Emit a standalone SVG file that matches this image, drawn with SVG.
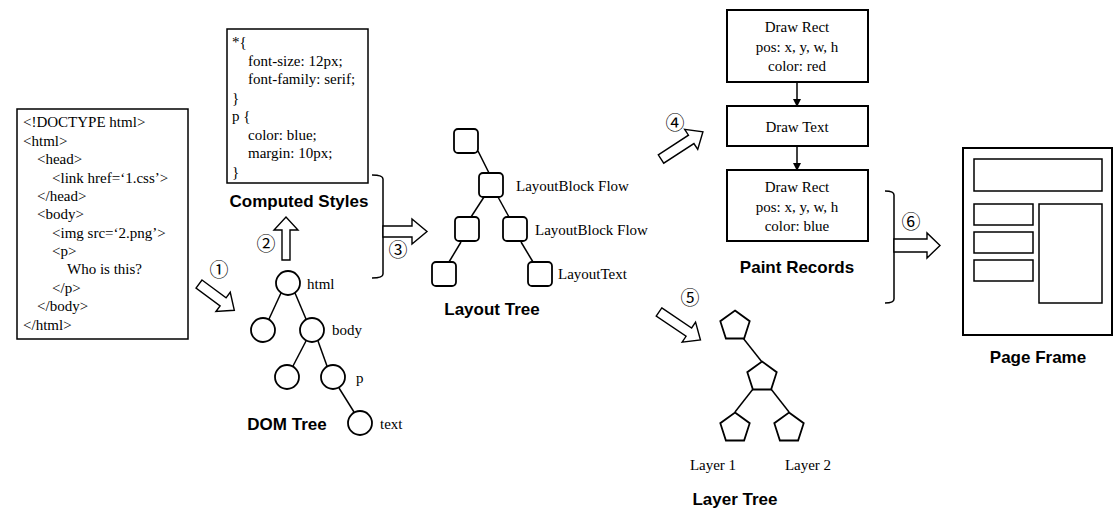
<svg xmlns="http://www.w3.org/2000/svg" width="1118" height="516" viewBox="0 0 1118 516">
<style>
.t{font-family:"Liberation Serif","Times New Roman",serif;font-size:15px;fill:#000}
.c{text-anchor:middle}
.n{font-family:"Noto Sans CJK SC","Noto Sans CJK JP",sans-serif;font-size:19px;font-weight:400;fill:#000;text-anchor:middle}
.b{font-family:"Liberation Sans",Arial,sans-serif;font-size:17px;font-weight:bold;fill:#000;text-anchor:middle}
.box{fill:#fff;stroke:#000;stroke-width:1.5}
.pbox{fill:#fff;stroke:#000;stroke-width:2}
.nd{fill:#fff;stroke:#000;stroke-width:1.8}
.ln{stroke:#000;stroke-width:1.5;fill:none}
.ha{fill:#fff;stroke:#000;stroke-width:1.4;stroke-linejoin:miter}
</style>
<defs>
<marker id="ah" markerWidth="8" markerHeight="8" refX="7" refY="4" orient="auto" markerUnits="userSpaceOnUse">
<path d="M0,0 L8,4 L0,8 Z" fill="#000"/>
</marker>
<polygon id="pent" points="0,-15.5 14.7,-4.8 9.1,12.5 -9.1,12.5 -14.7,-4.8"/>
</defs>

<g id="html-source">
<rect class="box" x="17" y="109" width="171" height="230"/>
<text class="t" x="23" y="127">&lt;!DOCTYPE html&gt;</text>
<text class="t" x="23" y="146">&lt;html&gt;</text>
<text class="t" x="37" y="164">&lt;head&gt;</text>
<text class="t" x="52" y="183">&lt;link href=‘1.css’&gt;</text>
<text class="t" x="37" y="201">&lt;/head&gt;</text>
<text class="t" x="37" y="219">&lt;body&gt;</text>
<text class="t" x="52" y="238">&lt;img src=‘2.png’&gt;</text>
<text class="t" x="52" y="256">&lt;p&gt;</text>
<text class="t" x="67" y="274">Who is this?</text>
<text class="t" x="52" y="293">&lt;/p&gt;</text>
<text class="t" x="37" y="311">&lt;/body&gt;</text>
<text class="t" x="23" y="330">&lt;/html&gt;</text>
</g>

<g id="css-source">
<rect class="box" x="227" y="29" width="141" height="154"/>
<text class="t" x="232" y="47">*{</text>
<text class="t" x="248" y="66">font-size: 12px;</text>
<text class="t" x="248" y="84">font-family: serif;</text>
<text class="t" x="232" y="103">}</text>
<text class="t" x="232" y="121">p {</text>
<text class="t" x="248" y="140">color: blue;</text>
<text class="t" x="248" y="158">margin: 10px;</text>
<text class="t" x="232" y="177">}</text>
<text class="b" x="299" y="207">Computed Styles</text>
</g>

<g id="dom-tree">
<line class="ln" x1="281" y1="293" x2="269" y2="319"/>
<line class="ln" x1="295" y1="293" x2="306" y2="319"/>
<line class="ln" x1="306" y1="341" x2="293" y2="366"/>
<line class="ln" x1="318" y1="341" x2="327" y2="366"/>
<line class="ln" x1="339" y1="388" x2="354" y2="412"/>
<circle class="nd" cx="288" cy="283" r="12"/>
<circle class="nd" cx="263" cy="330" r="12"/>
<circle class="nd" cx="312" cy="330" r="12"/>
<circle class="nd" cx="287" cy="377" r="12"/>
<circle class="nd" cx="333" cy="377" r="12"/>
<circle class="nd" cx="360" cy="423" r="12"/>
<text class="t" x="307" y="289">html</text>
<text class="t" x="332" y="335">body</text>
<text class="t" x="356" y="383">p</text>
<text class="t" x="380" y="429">text</text>
<text class="b" x="287" y="430">DOM Tree</text>
</g>

<g id="layout-tree">
<line class="ln" x1="478" y1="151" x2="489" y2="173"/>
<line class="ln" x1="484" y1="197" x2="471" y2="217"/>
<line class="ln" x1="498" y1="197" x2="509" y2="217"/>
<line class="ln" x1="461" y1="242" x2="449" y2="262"/>
<line class="ln" x1="521" y1="242" x2="533" y2="262"/>
<rect class="nd" x="454" y="129" width="24" height="24" rx="4"/>
<rect class="nd" x="479" y="173" width="24" height="24" rx="4"/>
<rect class="nd" x="455" y="217" width="24" height="24" rx="4"/>
<rect class="nd" x="503" y="217" width="24" height="24" rx="4"/>
<rect class="nd" x="432" y="262" width="24" height="24" rx="4"/>
<rect class="nd" x="528" y="262" width="24" height="24" rx="4"/>
<text class="t" x="516" y="191">LayoutBlock Flow</text>
<text class="t" x="535" y="235">LayoutBlock Flow</text>
<text class="t" x="558" y="279">LayoutText</text>
<text class="b" x="492" y="315">Layout Tree</text>
</g>

<g id="paint-records">
<rect class="pbox" x="727" y="10" width="141" height="72"/>
<text class="t c" x="797" y="32">Draw Rect</text>
<text class="t c" x="797" y="52">pos: x, y, w, h</text>
<text class="t c" x="797" y="71">color: red</text>
<rect class="pbox" x="727" y="106" width="141" height="40"/>
<text class="t c" x="797" y="132">Draw Text</text>
<rect class="pbox" x="727" y="170" width="141" height="71"/>
<text class="t c" x="797" y="192">Draw Rect</text>
<text class="t c" x="797" y="212">pos: x, y, w, h</text>
<text class="t c" x="797" y="231">color: blue</text>
<text class="b" x="797" y="273">Paint Records</text>
</g>

<g id="layer-tree">
<line class="ln" x1="743" y1="338" x2="762" y2="362"/>
<line class="ln" x1="753" y1="389" x2="735" y2="412"/>
<line class="ln" x1="771" y1="389" x2="789" y2="412"/>
<use href="#pent" x="735" y="326" class="nd"/>
<use href="#pent" x="762" y="377" class="nd"/>
<use href="#pent" x="735" y="428" class="nd"/>
<use href="#pent" x="789" y="428" class="nd"/>
<text class="t c" x="713" y="470">Layer 1</text>
<text class="t c" x="808" y="470">Layer 2</text>
<text class="b" x="735" y="505">Layer Tree</text>
</g>

<g id="page-frame">
<rect class="pbox" x="963" y="148" width="149" height="187"/>
<rect class="box" x="974" y="159" width="128" height="32"/>
<rect class="box" x="974" y="204" width="59" height="21"/>
<rect class="box" x="974" y="232" width="59" height="21"/>
<rect class="box" x="974" y="260" width="59" height="21"/>
<rect class="box" x="1039" y="204" width="63" height="99"/>
<text class="b" x="1038" y="363">Page Frame</text>
</g>

<g id="connectors">
<line class="ln" x1="797" y1="82" x2="797" y2="106" marker-end="url(#ah)"/>
<line class="ln" x1="797" y1="146" x2="797" y2="170" marker-end="url(#ah)"/>
<path class="ln" d="M372,175 Q383,175 383,179 L383,274 Q383,278 372,278"/>
<path class="ln" d="M885,191 Q894,191 894,195 L894,299 Q894,303 885,303"/>
<path class="ha" transform="translate(199,284) rotate(36.6)" d="M0,-5 L30,-5 L30,-12 L44,0 L30,12 L30,5 L0,5 Z"/>
<path class="ha" transform="translate(286,260) rotate(-90)" d="M0,-4 L30,-4 L30,-12 L43,0 L30,12 L30,4 L0,4 Z"/>
<path class="ha" transform="translate(383,231.5)" d="M0,-5.5 L29,-5.5 L29,-12.5 L44,0 L29,12.5 L29,5.5 L0,5.5 Z"/>
<path class="ha" transform="translate(661,159) rotate(-33)" d="M0,-5 L36,-5 L36,-12 L50,0 L36,12 L36,5 L0,5 Z"/>
<path class="ha" transform="translate(659,312) rotate(34)" d="M0,-5 L36,-5 L36,-12 L50,0 L36,12 L36,5 L0,5 Z"/>
<path class="ha" transform="translate(894,245.5)" d="M0,-6.5 L33,-6.5 L33,-12.5 L46,0 L33,12.5 L33,6.5 L0,6.5 Z"/>
<text class="n" x="219" y="277">①</text>
<text class="n" x="266" y="251">②</text>
<text class="n" x="398" y="257">③</text>
<text class="n" x="675" y="130">④</text>
<text class="n" x="690" y="305">⑤</text>
<text class="n" x="911" y="229">⑥</text>
</g>
</svg>
